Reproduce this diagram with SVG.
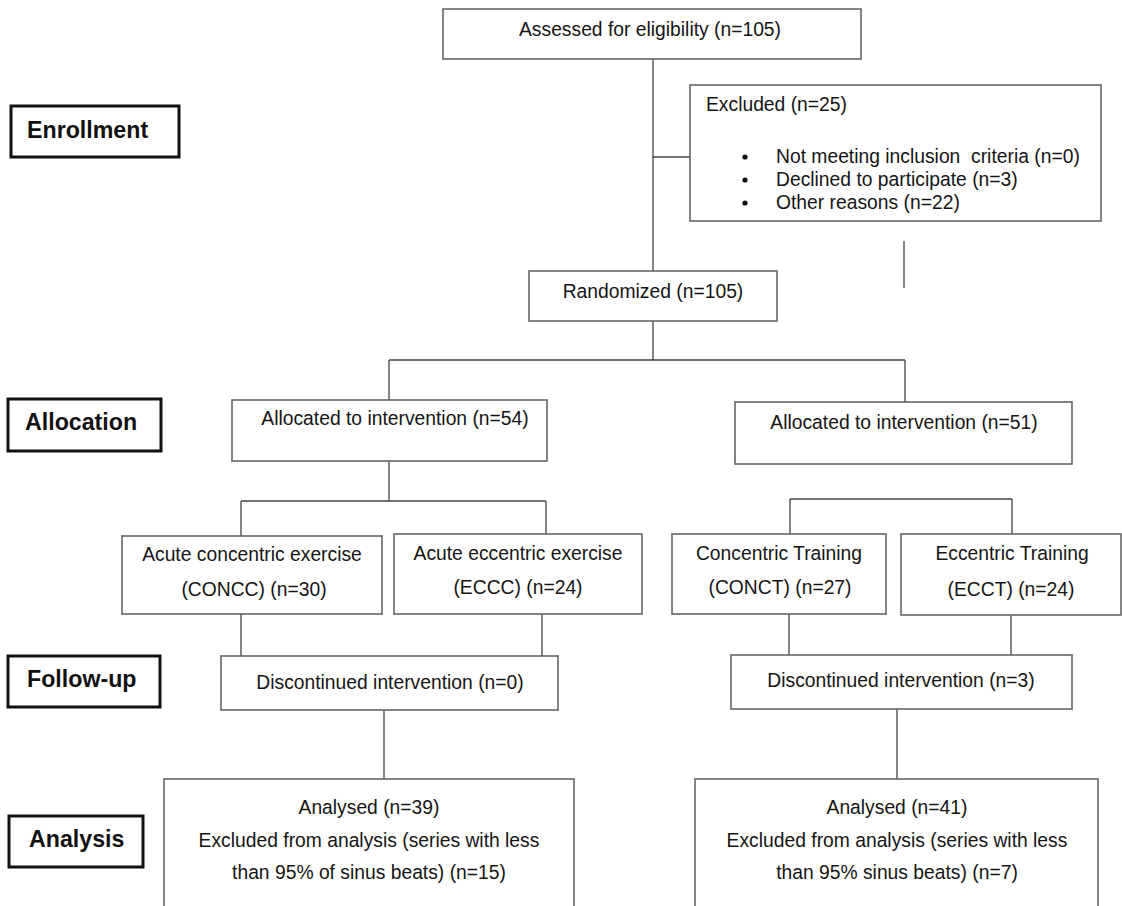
<svg xmlns="http://www.w3.org/2000/svg" width="1122" height="906" viewBox="0 0 1122 906">
<style>
  .box { fill: #ffffff; stroke: #666666; stroke-width: 1.6; }
  .lbl { fill: #ffffff; stroke: #111111; stroke-width: 3; }
  .t { font-family: "Liberation Sans", Arial, sans-serif; font-size: 19.3px; fill: #151515; }
  .c { text-anchor: middle; }
  .b { font-family: "Liberation Sans", Arial, sans-serif; font-size: 23.2px; font-weight: bold; fill: #111111; }
  .conn { fill: none; stroke: #444444; stroke-width: 1.3; }
</style>
<rect width="1122" height="906" fill="#ffffff"/>

<g id="connectors">
  <path class="conn" d="M653 59 V271"/>
  <path class="conn" d="M653 157 H690"/>
  <path class="conn" d="M904 241 V288" stroke="#777777"/>
  <path class="conn" d="M653 321 V360 M389 360 H905 M389 360 V400 M905 360 V402"/>
  <path class="conn" d="M389 461 V501 M241 501 H546 M241 501 V536 M546 501 V534"/>
  <path class="conn" d="M790 499 H1012 M790 499 V534 M1012 499 V534"/>
  <path class="conn" d="M241 613 V656 M542 613 V656"/>
  <path class="conn" d="M789 614 V655 M1011 615 V655"/>
  <path class="conn" d="M384 710 V779 M897 709 V779"/>
</g>

<g id="label-enrollment">
  <rect class="lbl" x="11" y="106" width="168" height="51"/>
  <text class="b" x="27" y="138">Enrollment</text>
</g>
<g id="label-allocation">
  <rect class="lbl" x="8" y="399" width="153" height="52"/>
  <text class="b" x="25" y="430">Allocation</text>
</g>
<g id="label-followup">
  <rect class="lbl" x="8" y="656" width="152" height="51"/>
  <text class="b" x="27" y="687">Follow-up</text>
</g>
<g id="label-analysis">
  <rect class="lbl" x="9" y="816" width="134" height="51"/>
  <text class="b" x="29" y="847">Analysis</text>
</g>

<g id="assessed">
  <rect class="box" x="443" y="9" width="418" height="50"/>
  <text class="t c" x="650" y="36">Assessed for eligibility (n=105)</text>
</g>

<g id="excluded">
  <rect class="box" x="690" y="85" width="411" height="136"/>
  <text class="t" x="706" y="111">Excluded (n=25)</text>
  <circle cx="745" cy="157" r="2.6" fill="#111111"/>
  <circle cx="745" cy="180" r="2.6" fill="#111111"/>
  <circle cx="745" cy="203" r="2.6" fill="#111111"/>
  <text class="t" x="776" y="163" xml:space="preserve">Not meeting inclusion  criteria (n=0)</text>
  <text class="t" x="776" y="186">Declined to participate (n=3)</text>
  <text class="t" x="776" y="209">Other reasons (n=22)</text>
</g>

<g id="randomized">
  <rect class="box" x="529" y="271" width="248" height="50"/>
  <text class="t c" x="653" y="298">Randomized (n=105)</text>
</g>

<g id="alloc-left">
  <rect class="box" x="232" y="400" width="315" height="61"/>
  <text class="t c" x="395" y="425">Allocated to intervention (n=54)</text>
</g>
<g id="alloc-right">
  <rect class="box" x="735" y="402" width="337" height="62"/>
  <text class="t c" x="904" y="429">Allocated to intervention (n=51)</text>
</g>

<g id="concc">
  <rect class="box" x="122" y="536" width="260" height="78"/>
  <text class="t c" x="252" y="561">Acute concentric exercise</text>
  <text class="t c" x="254" y="596">(CONCC) (n=30)</text>
</g>
<g id="eccc">
  <rect class="box" x="394" y="534" width="248" height="80"/>
  <text class="t c" x="518" y="560">Acute eccentric exercise</text>
  <text class="t c" x="518" y="594">(ECCC) (n=24)</text>
</g>
<g id="conct">
  <rect class="box" x="672" y="534" width="214" height="80"/>
  <text class="t c" x="779" y="560">Concentric Training</text>
  <text class="t c" x="780" y="594">(CONCT) (n=27)</text>
</g>
<g id="ecct">
  <rect class="box" x="901" y="534" width="220" height="81"/>
  <text class="t c" x="1012" y="560">Eccentric Training</text>
  <text class="t c" x="1011" y="596">(ECCT) (n=24)</text>
</g>

<g id="disc-left">
  <rect class="box" x="221" y="656" width="337" height="54"/>
  <text class="t c" x="390" y="689">Discontinued intervention (n=0)</text>
</g>
<g id="disc-right">
  <rect class="box" x="731" y="655" width="341" height="54"/>
  <text class="t c" x="901" y="687">Discontinued intervention (n=3)</text>
</g>

<g id="analysis-left">
  <rect class="box" x="164" y="779" width="410" height="140"/>
  <text class="t c" x="369" y="814">Analysed (n=39)</text>
  <text class="t c" x="369" y="847">Excluded from analysis (series with less</text>
  <text class="t c" x="369" y="879">than 95% of sinus beats) (n=15)</text>
</g>
<g id="analysis-right">
  <rect class="box" x="695" y="779" width="403" height="140"/>
  <text class="t c" x="897" y="814">Analysed (n=41)</text>
  <text class="t c" x="897" y="847">Excluded from analysis (series with less</text>
  <text class="t c" x="897" y="879">than 95% sinus beats) (n=7)</text>
</g>
</svg>
